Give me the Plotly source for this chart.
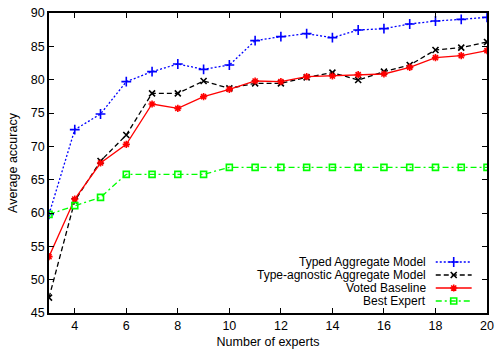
import plotly.graph_objects as go

experts = list(range(3, 21))
typed = [59.8, 72.5, 74.85, 79.7, 81.2, 82.35, 81.55, 82.2, 85.85, 86.45, 86.9, 86.3, 87.45, 87.65, 88.35, 88.8, 89.05, 89.35]
agnostic = [47.3, 61.8, 67.8, 71.7, 77.95, 77.95, 79.8, 78.7, 79.45, 79.45, 80.35, 81.05, 79.95, 81.2, 82.2, 84.45, 84.8, 85.65]
voted = [53.45, 62.1, 67.5, 70.3, 76.35, 75.7, 77.45, 78.55, 79.8, 79.7, 80.45, 80.55, 80.75, 80.85, 81.85, 83.3, 83.6, 84.35]
best = [59.8, 61.1, 62.35, 65.8, 65.8, 65.8, 65.8, 66.85, 66.85, 66.85, 66.85, 66.85, 66.85, 66.85, 66.85, 66.85, 66.85, 66.85]

names = ["Typed Aggregate Model", "Type-agnostic Aggregate Model", "Voted Baseline", "Best Expert"]
series = [typed, agnostic, voted, best]
colors = ["#0000ff", "#000000", "#ff0000", "#00ff00"]
dashes = ["2px,2px", "5px,3px", "solid", "6px,3px,2px,3px"]
symbols = ["cross-thin-open", "x-thin-open", "asterisk-open", "square-open"]
msizes = [7, 6, 6, 6]

FONT = "Liberation Sans, Arial, sans-serif"
fig = go.Figure()

for name, ys, c, d, s, ms in zip(names, series, colors, dashes, symbols, msizes):
    fig.add_trace(go.Scatter(
        x=experts, y=ys, mode="lines+markers", name=name, showlegend=False,
        line=dict(color=c, width=1.3, dash=d),
        marker=dict(symbol=s, size=ms, color=c, line=dict(color=c, width=1.6)),
    ))

# custom legend (text on the left, sample on the right), gnuplot style
leg_y = [0.170, 0.1267, 0.0833, 0.040]
for name, c, d, s, ms, yy in zip(names, colors, dashes, symbols, msizes, leg_y):
    fig.add_trace(go.Scatter(
        x=[0.883, 0.965], y=[yy, yy], mode="lines", xaxis="x2", yaxis="y2",
        showlegend=False, hoverinfo="skip",
        line=dict(color=c, width=1.3, dash=d),
    ))
    fig.add_trace(go.Scatter(
        x=[0.924], y=[yy], mode="markers", xaxis="x2", yaxis="y2",
        showlegend=False, hoverinfo="skip",
        marker=dict(symbol=s, size=ms, color=c, line=dict(color=c, width=1.6)),
    ))
    fig.add_annotation(
        x=0.865, y=yy, xref="x2", yref="y2", text=name, showarrow=False,
        xanchor="right", yanchor="middle",
        font=dict(family=FONT, size=12, color="#000000"),
    )

fig.update_layout(
    width=495, height=349,
    margin=dict(l=49, r=8, t=13, b=36),
    paper_bgcolor="white", plot_bgcolor="white",
    font=dict(family=FONT, size=12.5, color="#000000"),
    xaxis=dict(
        range=[3, 20], tick0=4, dtick=2, ticks="inside", ticklen=5, tickwidth=1,
        tickcolor="#000000", showline=True, linecolor="#000000", linewidth=1.5,
        mirror="ticks", showgrid=False, zeroline=False, automargin=False,
        tickfont=dict(size=12.5),
        title=dict(text="Number of experts", font=dict(size=12.5), standoff=6),
    ),
    yaxis=dict(
        range=[45, 90], tick0=45, dtick=5, ticks="inside", ticklen=5, tickwidth=1,
        tickcolor="#000000", showline=True, linecolor="#000000", linewidth=1.5,
        mirror="ticks", showgrid=False, zeroline=False, automargin=False,
        tickfont=dict(size=12.5),
        title=dict(text="Average accuracy", font=dict(size=12.5), standoff=10),
    ),
    xaxis2=dict(range=[0, 1], overlaying="x", visible=False, fixedrange=True),
    yaxis2=dict(range=[0, 1], overlaying="y", visible=False, fixedrange=True),
)

fig.write_html("out.html", config={"displayModeBar": False},
               post_script="document.body.style.margin='0px';")
